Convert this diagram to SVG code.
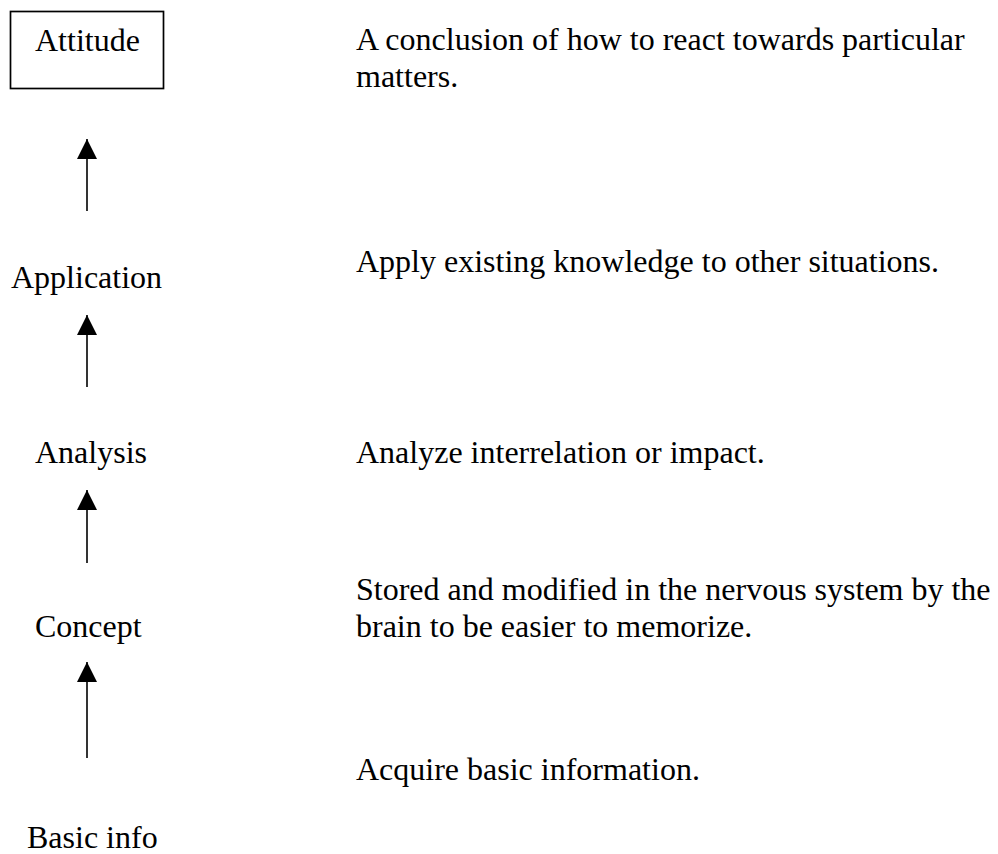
<svg xmlns="http://www.w3.org/2000/svg" width="998" height="854" viewBox="0 0 998 854">
<style>
text{font-family:"Liberation Serif","Times New Roman",serif;font-size:32px;fill:#000}
.box{fill:#fff;stroke:#000;stroke-width:1.7}
.conn line{stroke:#000;stroke-width:1.6;marker-end:url(#arr)}
</style>
<defs>
<marker id="arr" viewBox="0 0 20 20" markerWidth="20" markerHeight="20" markerUnits="userSpaceOnUse" refX="20" refY="10" orient="auto">
<path d="M0,0 L20,10 L0,20 z" fill="#000"/>
</marker>
</defs>
<rect width="998" height="854" fill="#fff"/>
<g id="attitude">
<rect class="box" x="10.5" y="11.5" width="153" height="77"/>
<text x="35" y="51">Attitude</text>
</g>
<g id="application"><text x="11" y="288">Application</text></g>
<g id="analysis"><text x="35" y="463">Analysis</text></g>
<g id="concept"><text x="35" y="637">Concept</text></g>
<g id="basic-info"><text x="27" y="848">Basic info</text></g>
<g id="desc-attitude">
<text x="356" y="50">A conclusion of how to react towards particular</text>
<text x="356" y="87">matters.</text>
</g>
<g id="desc-application"><text x="356" y="272">Apply existing knowledge to other situations.</text></g>
<g id="desc-analysis"><text x="356" y="463">Analyze interrelation or impact.</text></g>
<g id="desc-concept">
<text x="356" y="600">Stored and modified in the nervous system by the</text>
<text x="356" y="637">brain to be easier to memorize.</text>
</g>
<g id="desc-basic"><text x="356" y="780">Acquire basic information.</text></g>
<g class="conn" id="connectors">
<line x1="87" y1="211" x2="87" y2="139"/>
<line x1="87" y1="387" x2="87" y2="315"/>
<line x1="87" y1="563" x2="87" y2="490"/>
<line x1="87" y1="758" x2="87" y2="662"/>
</g>
</svg>
